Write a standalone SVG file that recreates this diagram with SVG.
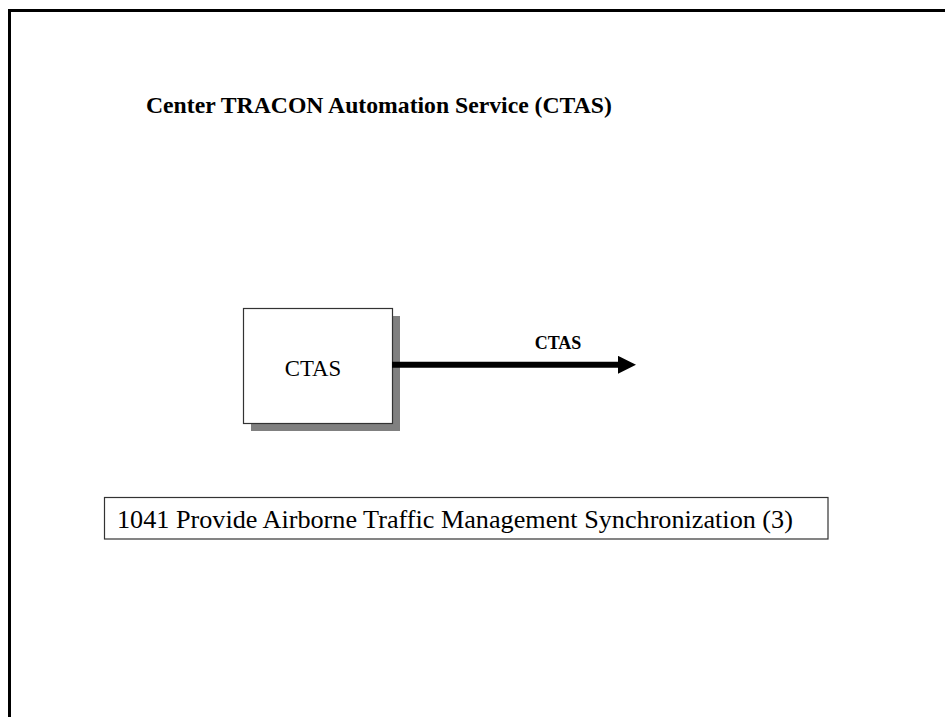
<svg xmlns="http://www.w3.org/2000/svg" width="945" height="717" viewBox="0 0 945 717">
  <defs>
    <style>
      .serif { font-family: "Liberation Serif", "Times New Roman", serif; fill: #000; }
      .bold { font-weight: bold; }
      .box { fill: #fff; stroke: #333; stroke-width: 1.2; }
      .shadow { fill: #808080; }
    </style>
    <marker id="arrow" markerWidth="18" markerHeight="18" refX="0" refY="9" orient="auto" markerUnits="userSpaceOnUse">
      <polygon points="0,0 18,9 0,18" fill="#000"/>
    </marker>
  </defs>
  <rect width="945" height="717" fill="#fff"/>
  <path d="M9.5 717 V10.5 H945" fill="none" stroke="#000" stroke-width="3"/>
  <text x="146" y="112.5" class="serif bold" font-size="23.7">Center TRACON Automation Service (CTAS)</text>

  <g id="node-ctas">
    <rect x="251" y="316" width="149" height="115" class="shadow"/>
    <rect x="243.5" y="308.5" width="149" height="115" class="box"/>
    <text x="313" y="376" class="serif" font-size="22.8" text-anchor="middle">CTAS</text>
  </g>

  <g id="connectors">
    <line x1="392" y1="364.8" x2="618" y2="364.8" stroke="#000" stroke-width="6" marker-end="url(#arrow)"/>
    <text x="558" y="349.3" class="serif bold" font-size="18" text-anchor="middle">CTAS</text>
  </g>

  <g id="node-1041">
    <rect x="104.5" y="497.5" width="723.5" height="41.5" class="box"/>
    <text x="117" y="528" class="serif" font-size="26.2">1041 Provide Airborne Traffic Management Synchronization (3)</text>
  </g>
</svg>
